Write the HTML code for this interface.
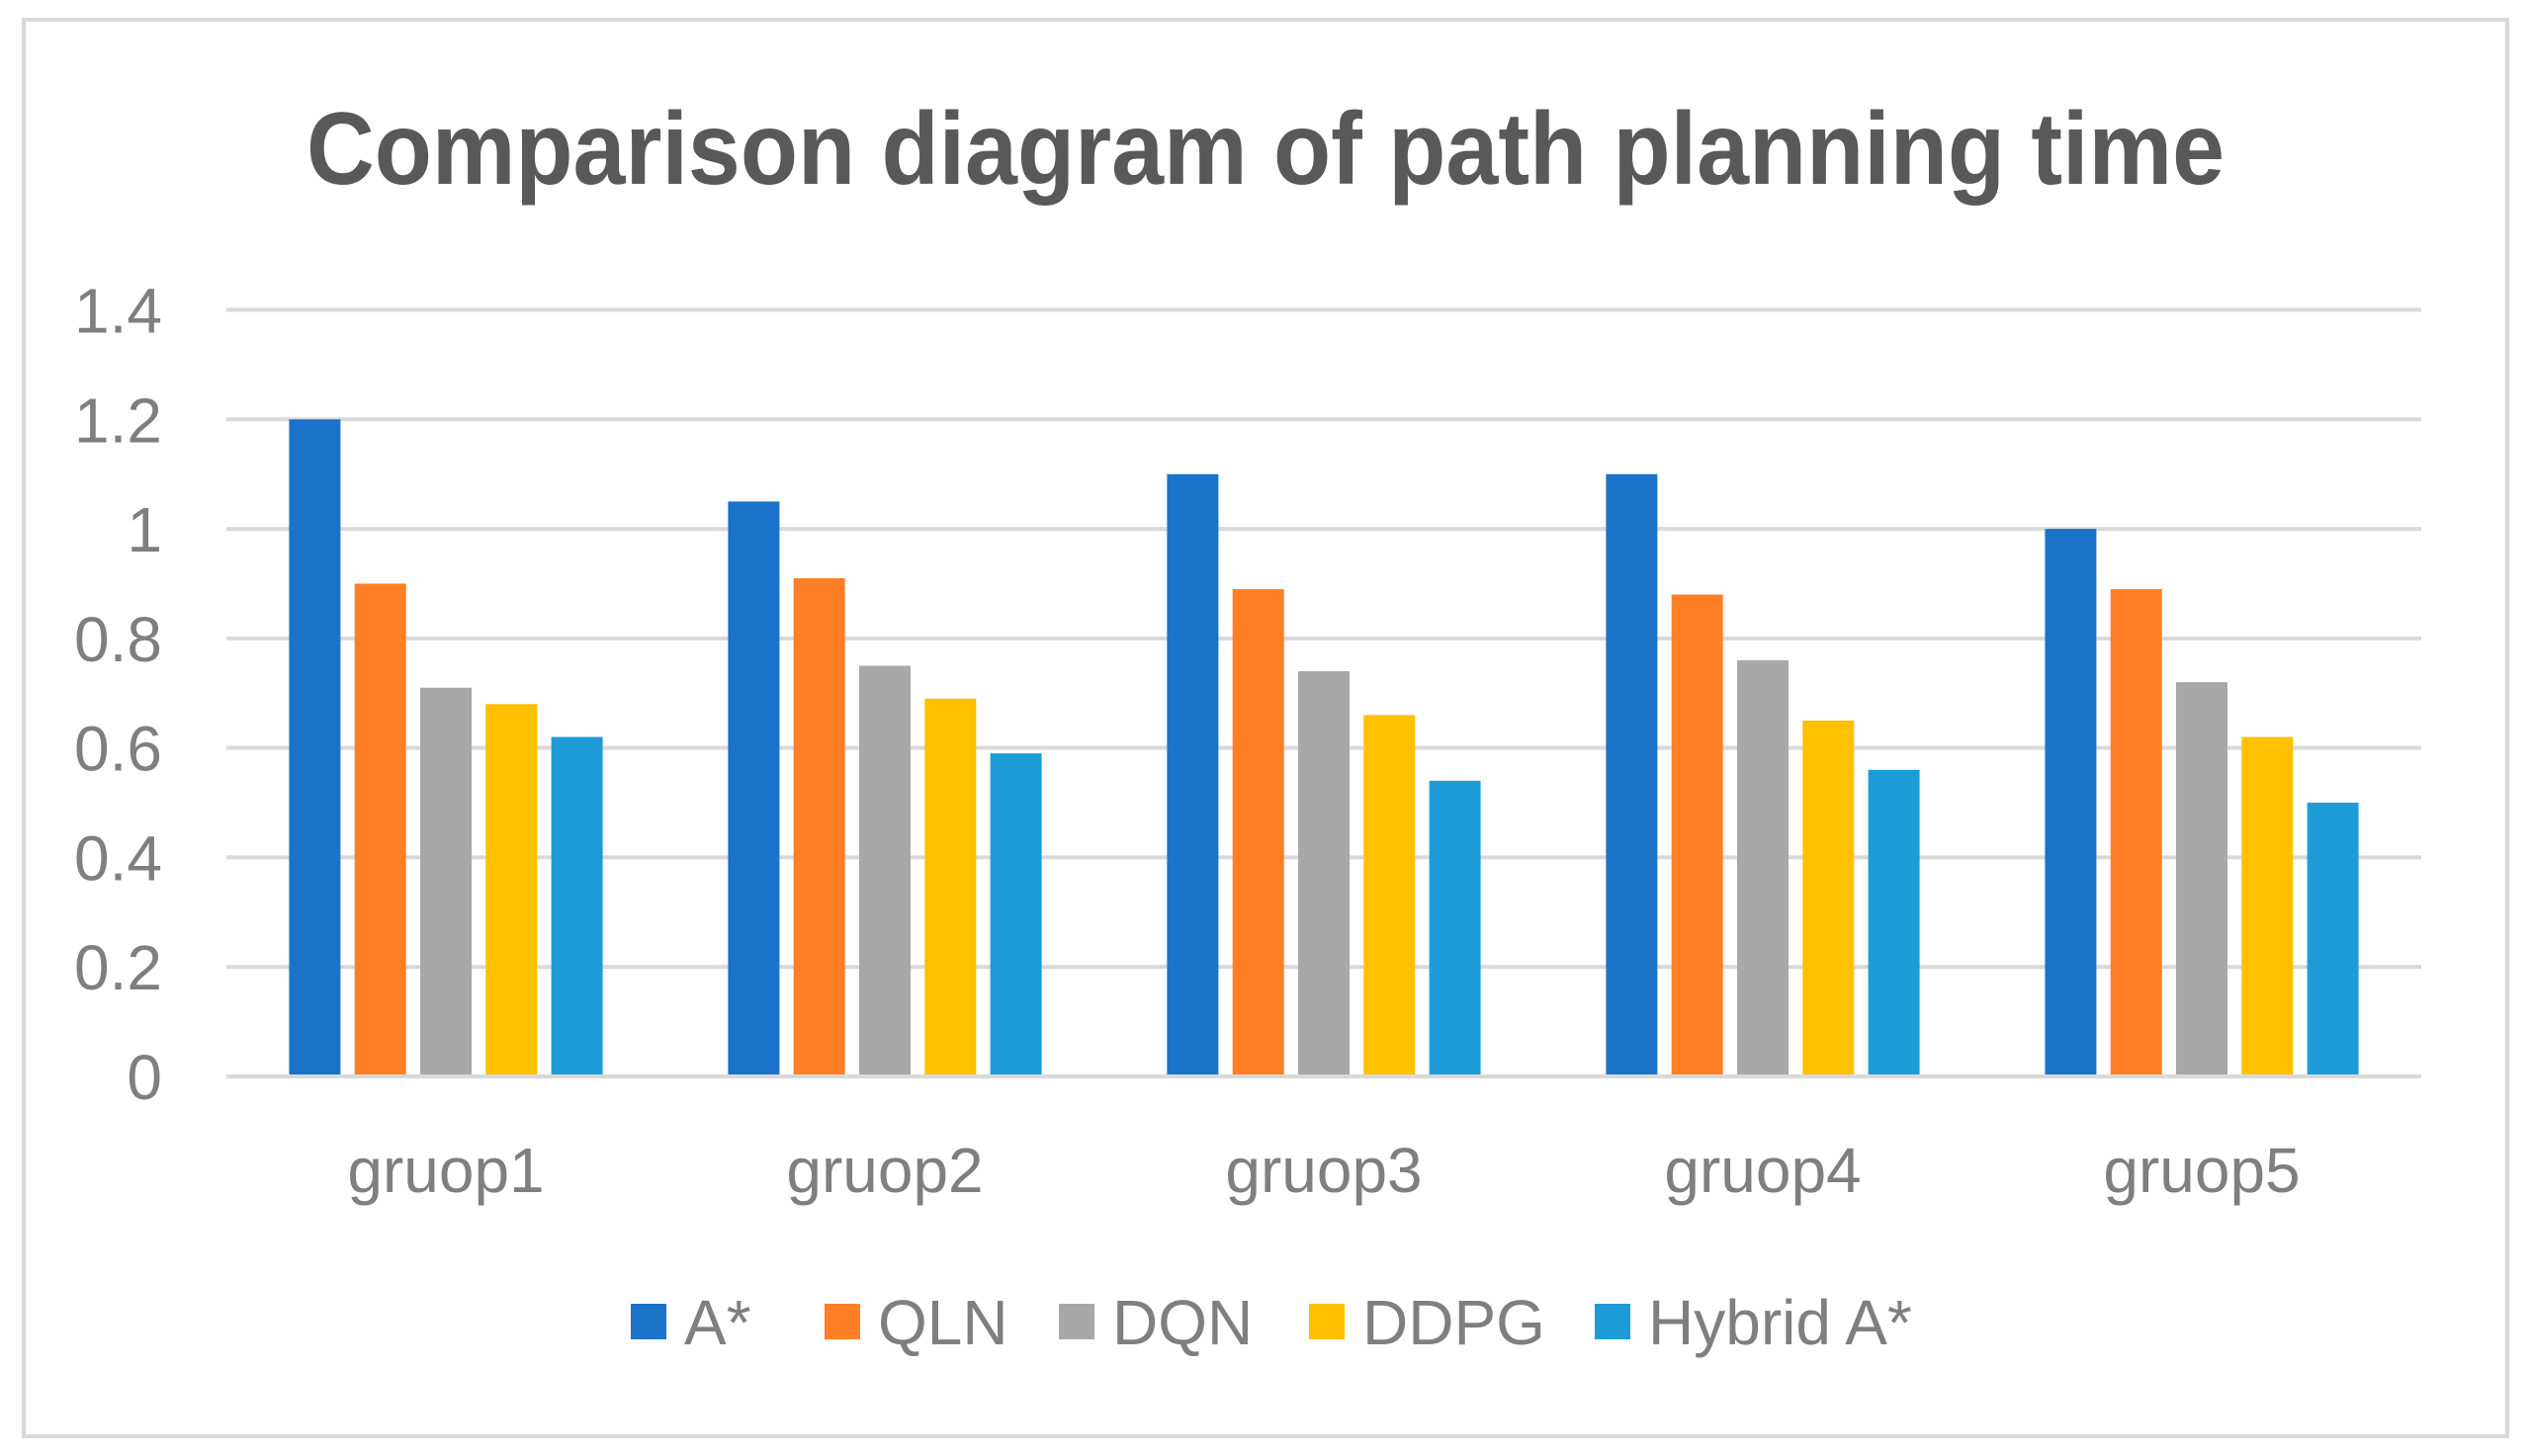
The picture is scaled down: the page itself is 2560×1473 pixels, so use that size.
<!DOCTYPE html>
<html><head><meta charset="utf-8"><style>
html,body{margin:0;padding:0;background:#fff;width:2560px;height:1473px;overflow:hidden}
svg{display:block;font-family:"Liberation Sans",sans-serif}
</style></head><body>
<svg id="chart" width="2560" height="1473" viewBox="0 0 2560 1473">
<rect x="24" y="20" width="2512" height="1433" fill="#fff" stroke="#d9d9d9" stroke-width="4"/>
<text x="1280" y="186" text-anchor="middle" font-size="104" font-weight="bold" fill="#595959" textLength="1940" lengthAdjust="spacingAndGlyphs">Comparison diagram of path planning time</text>
<g id="grid"></g><g id="bars"></g><g id="labels"></g><g id="legend"></g>
</svg>
<script>
const categories=["gruop1","gruop2","gruop3","gruop4","gruop5"];
const seriesNames=["A*","QLN","DQN","DDPG","Hybrid A*"];
const seriesColors=["#1a73c8","#ff7f27","#a8a8a8","#ffc000","#1e9cd8"];
const valuesAstar=[1.2,1.05,1.1,1.1,1.0];
const valuesQLN=[0.9,0.91,0.89,0.88,0.89];
const valuesDQN=[0.71,0.75,0.74,0.76,0.72];
const valuesDDPG=[0.68,0.69,0.66,0.65,0.62];
const valuesHybrid=[0.62,0.59,0.54,0.56,0.5];
const yTicks=[0,0.2,0.4,0.6,0.8,1,1.2,1.4];
const yTickLabels=["0","0.2","0.4","0.6","0.8","1","1.2","1.4"];
const series=[valuesAstar,valuesQLN,valuesDQN,valuesDDPG,valuesHybrid];
const NS="http://www.w3.org/2000/svg";
const L=229,R=2449,Y0=1089,Y1=313.5,YMAX=1.4;
const y=v=>Y0-(Y0-Y1)*v/YMAX;
const gw=(R-L)/categories.length;
const bw=52,bstep=66.3;
const x=(ci,si)=>L+gw*ci+gw/2+(si-(series.length-1)/2)*bstep-bw/2;
function mk(tag,attrs,parent){const e=document.createElementNS(NS,tag);for(const k in attrs)e.setAttribute(k,attrs[k]);document.getElementById(parent).appendChild(e);return e;}
yTicks.forEach((t,i)=>{
  const g=mk("line",{x1:L,x2:R,y1:y(t),y2:y(t),stroke:"#d9d9d9","stroke-width":4},"grid");
  
  
  const tx=mk("text",{x:164,y:y(t)+23,"text-anchor":"end","font-size":64,fill:"#7f7f7f"},"labels");
  tx.textContent=yTickLabels[i];
  
  
});
series.forEach((vals,si)=>{
  vals.forEach((v,ci)=>{
    const b=mk("rect",{x:x(ci,si),y:y(v),width:bw,height:Y0-y(v)-2,fill:seriesColors[si]},"bars");
    
    
  });
});
categories.forEach((c,ci)=>{
  const t=mk("text",{x:L+gw*ci+gw/2,y:1206,"text-anchor":"middle","font-size":64,fill:"#7f7f7f"},"labels");
  t.textContent=c;
  
  
});
const legendSquareX=[638,834,1071,1324,1613];
seriesNames.forEach((n,si)=>{
  const s=mk("rect",{x:legendSquareX[si],y:1319,width:36,height:36,fill:seriesColors[si]},"legend");
  
  
  const t=mk("text",{x:legendSquareX[si]+54,y:1360,"font-size":64,fill:"#7f7f7f"},"legend");
  t.textContent=n;
  
  
});
</script>
</body></html>
